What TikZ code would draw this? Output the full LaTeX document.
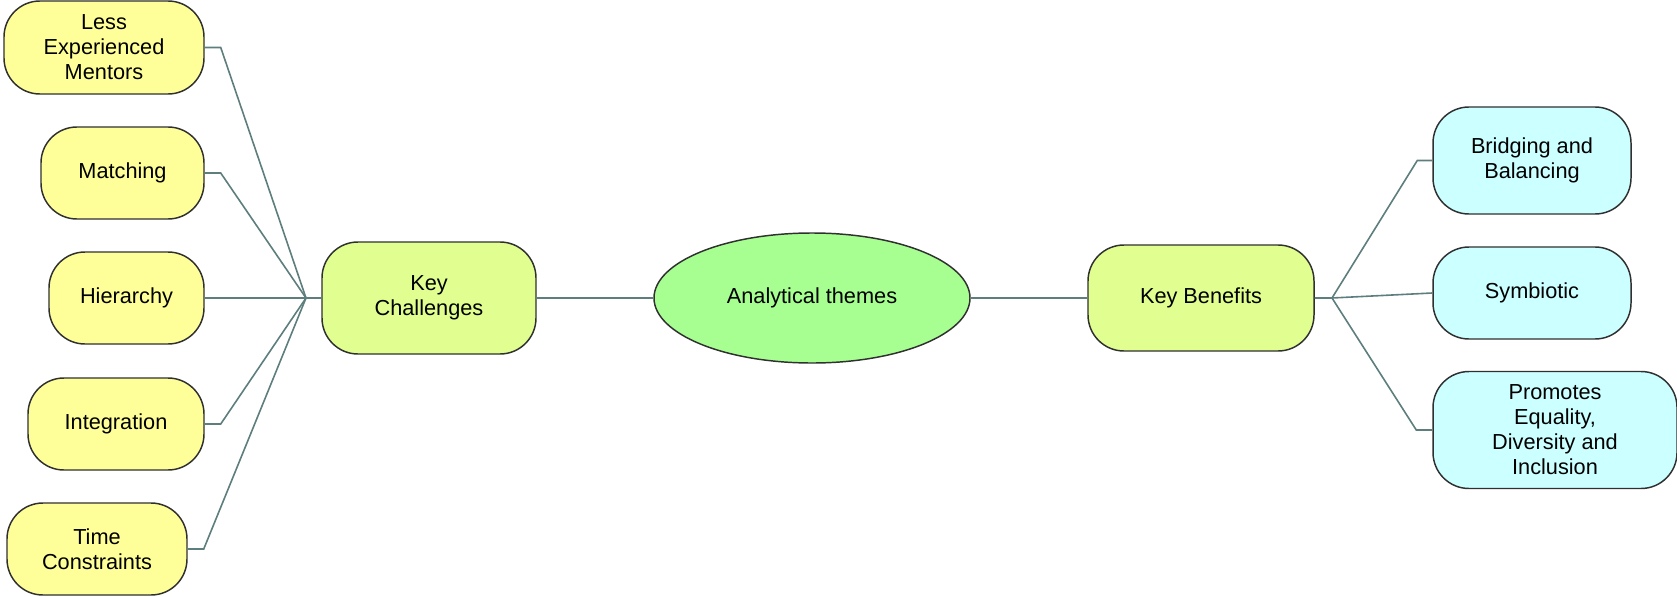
\documentclass[tikz,border=0pt]{standalone}
\usepackage{fontspec}
\setmainfont{Liberation Sans}
\usetikzlibrary{shapes.geometric}

\definecolor{leafyellow}{RGB}{255,255,153}
\definecolor{hubgreen}{RGB}{224,255,144}
\definecolor{rootgreen}{RGB}{166,255,144}
\definecolor{leafcyan}{RGB}{204,255,255}
\definecolor{edgegrey}{RGB}{48,48,48}
\definecolor{linkgrey}{RGB}{94,126,126}

\begin{document}
\begin{tikzpicture}[x=0.75pt,y=0.75pt,yscale=-1,xscale=1,
  box/.style={draw=edgegrey, line width=1.1pt, rounded corners=27pt, align=center,
    inner sep=0pt, font=\fontsize{16.3}{18.8}\selectfont},
  leaf/.style={box, fill=leafyellow, minimum height=69pt},
  hub/.style={box, fill=hubgreen},
  benefit/.style={box, fill=leafcyan},
  root/.style={ellipse, draw=edgegrey, line width=1.1pt, fill=rootgreen, inner sep=0pt,
    font=\fontsize{16.3}{18.8}\selectfont},
  link/.style={draw=linkgrey, line width=1.2pt}]
%set diagram size
\useasboundingbox (0,0) rectangle (1677,596);

%Centre
\node [root, minimum width=237pt, minimum height=97.5pt] (at) at (812,298) {Analytical themes};
\node [hub, minimum width=160.5pt, minimum height=84pt] (kc) at (429,298) {Key\\Challenges};
\node [hub, minimum width=169.5pt, minimum height=79.5pt] (kb) at (1201,298) {Key Benefits};

%Left branch
\node [leaf, minimum width=150pt, minimum height=69.75pt] (lem) at (104,47.5) {Less\\Experienced\\Mentors};
\node [leaf, minimum width=122.25pt] (mat) at (122.5,173) {Matching};
\node [leaf, minimum width=116.25pt] (hier) at (126.5,298) {Hierarchy};
\node [leaf, minimum width=132pt] (integ) at (116,424) {Integration};
\node [leaf, minimum width=135pt] (time) at (97,549) {Time\\Constraints};

%Right branch
\node [benefit, minimum width=148.5pt, minimum height=80.25pt] (bb) at (1532,160.5) {Bridging and\\Balancing};
\node [benefit, minimum width=148.5pt, minimum height=69pt] (sym) at (1532,293) {Symbiotic};
\node [benefit, minimum width=183pt, minimum height=87.75pt] (prom) at (1555,430) {Promotes\\Equality,\\Diversity and\\Inclusion};

%Junctions
\coordinate (jl) at (306,298);
\coordinate (jr) at (1332,298);

%Connectors
\draw [link] (kc.east) -- (at.west);
\draw [link] (at.east) -- (kb.west);

\draw [link] (lem.east) -- ++(16,0) -- (jl) -- (kc.west);
\draw [link] (mat.east) -- ++(16,0) -- (jl) -- (kc.west);
\draw [link] (hier.east) -- (jl) -- (kc.west);
\draw [link] (integ.east) -- ++(16,0) -- (jl) -- (kc.west);
\draw [link] (time.east) -- ++(16,0) -- (jl) -- (kc.west);

\draw [link] (bb.west) -- ++(-15,0) -- (jr) -- (kb.east);
\draw [link] (sym.west) -- (jr) -- (kb.east);
\draw [link] (prom.west) -- ++(-16,0) -- (jr) -- (kb.east);
\end{tikzpicture}
\end{document}
